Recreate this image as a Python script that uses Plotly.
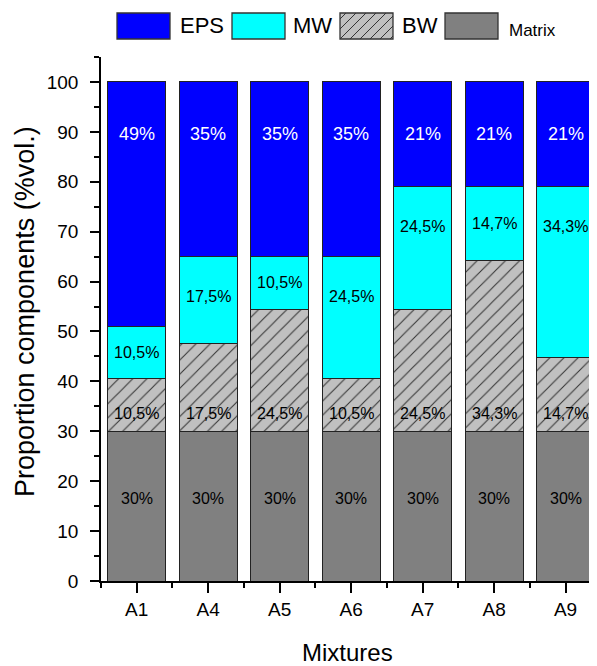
import plotly.graph_objects as go

categories = ["A1", "A4", "A5", "A6", "A7", "A8", "A9"]
matrix = [30, 30, 30, 30, 30, 30, 30]
bw = [10.5, 17.5, 24.5, 10.5, 24.5, 34.3, 14.7]
mw = [10.5, 17.5, 10.5, 24.5, 24.5, 14.7, 34.3]
eps = [49, 35, 35, 35, 21, 21, 21]

y_ticks = list(range(0, 101, 10))

FONT = "Liberation Sans, Arial, sans-serif"
# page geometry (the html body adds an 8px offset)
OFF = 8
W, H = 597, 666
L, R, T, B = 101, 0, 57, 85
PW, PH = W - L - R, H - T - B


def px(x):
    return (x - L) / PW


def py(y):
    return (H - B - y) / PH


def fmt(v):
    return f"{v:g}".replace(".", ",") + "%"


xs = list(range(len(categories)))
fig = go.Figure()

fig.add_bar(x=xs, y=matrix, name="Matrix",
            marker=dict(color="#808080", line=dict(color="#222", width=1)))
fig.add_bar(x=xs, y=bw, name="BW",
            marker=dict(color="#C0C0C0", line=dict(color="#222", width=1),
                        pattern=dict(shape="/", bgcolor="#C0C0C0", fgcolor="#333",
                                     size=10, solidity=0.1, fillmode="replace")))
fig.add_bar(x=xs, y=mw, name="MW",
            marker=dict(color="#00FFFF", line=dict(color="#222", width=1)))
fig.add_bar(x=xs, y=eps, name="EPS",
            marker=dict(color="#0000FF", line=dict(color="#222", width=1)))

# value labels
for i in xs:
    m_top = matrix[i]
    fig.add_annotation(x=i, y=matrix[i] * 0.55, text=fmt(matrix[i]), showarrow=False,
                       font=dict(family=FONT, size=16, color="black"))
    fig.add_annotation(x=i, y=m_top + 3.5, text=fmt(bw[i]), showarrow=False,
                       font=dict(family=FONT, size=16, color="black"))
    mw_top = m_top + bw[i] + mw[i]
    fig.add_annotation(x=i, y=mw_top - min(8, mw[i] / 2), text=fmt(mw[i]), showarrow=False,
                       font=dict(family=FONT, size=16, color="black"))
    eps_top = mw_top + eps[i]
    fig.add_annotation(x=i, y=eps_top - 10.5, text=fmt(eps[i]), showarrow=False,
                       font=dict(family=FONT, size=18, color="white"))

# custom legend
legend_items = [
    ("EPS", "#0000FF", 117, 178, 22),
    ("MW", "#00FFFF", 232, 291, 22),
    ("BW", "#C0C0C0", 340, 400, 22),
    ("Matrix", "#808080", 445, 507, 17),
]
shapes = []
annotations_extra = []
sw_w, sw_top, sw_bot = 53, 13, 39
for name, col, x0, tx, fs in legend_items:
    shapes.append(dict(type="rect", xref="paper", yref="paper",
                       x0=px(x0), x1=px(x0 + sw_w), y0=py(sw_bot), y1=py(sw_top),
                       fillcolor=col, line=dict(color="#333", width=1.3)))
    if name == "BW":
        hgt = sw_bot - sw_top
        for k in range(-3, 8):
            sx0 = x0 + k * 10
            ax0, ay0, ax1, ay1 = sx0, sw_bot, sx0 + hgt, sw_top
            if ax0 < x0:
                d = x0 - ax0
                ax0, ay0 = x0, sw_bot - d
            if ax1 > x0 + sw_w:
                d = ax1 - (x0 + sw_w)
                ax1, ay1 = x0 + sw_w, sw_top + d
            if ax1 <= ax0:
                continue
            shapes.append(dict(type="line", xref="paper", yref="paper",
                               x0=px(ax0), y0=py(ay0), x1=px(ax1), y1=py(ay1),
                               line=dict(color="#333", width=1)))
    ty = 26 if name != "Matrix" else 31
    annotations_extra.append(dict(xref="paper", yref="paper", x=px(tx), y=py(ty),
                                  xanchor="left", yanchor="middle", text=name, showarrow=False,
                                  font=dict(family=FONT, size=fs, color="black")))

# axis titles
annotations_extra.append(dict(xref="paper", yref="paper", x=px(25), y=py(312),
                              text="Proportion components (%vol.)", textangle=-90,
                              showarrow=False, xanchor="center", yanchor="middle",
                              font=dict(family=FONT, size=27, color="black")))
annotations_extra.append(dict(xref="paper", yref="paper", x=px(347), y=py(652),
                              text="Mixtures", showarrow=False, xanchor="center", yanchor="middle",
                              font=dict(family=FONT, size=24, color="black")))

for a in annotations_extra:
    fig.add_annotation(**a)

fig.update_layout(
    barmode="stack",
    bargap=0.19,
    width=W - OFF, height=H - OFF,
    margin=dict(l=L - OFF, r=R, t=T - OFF, b=B, pad=0),
    plot_bgcolor="white", paper_bgcolor="white",
    showlegend=False,
    shapes=shapes,
    font=dict(family=FONT, color="black"),
    xaxis=dict(range=[-0.5, 6.44], tickmode="array", tickvals=xs, ticktext=categories,
               ticks="outside", ticklen=10, tickwidth=1.5, tickcolor="black",
               minor=dict(tick0=0.5, dtick=1, ticks="outside", ticklen=5, tickwidth=1.5,
                          tickcolor="black"),
               showline=True, linecolor="black", linewidth=1.5, showgrid=False, zeroline=False,
               tickfont=dict(family=FONT, size=19, color="black")),
    yaxis=dict(range=[0, 105], tickmode="array", tickvals=y_ticks,
               ticks="outside", ticklen=9, tickwidth=1.5, tickcolor="black",
               ticklabelstandoff=8,
               minor=dict(tick0=0, dtick=5, ticks="outside", ticklen=5, tickwidth=1.5,
                          tickcolor="black"),
               showline=True, linecolor="black", linewidth=1.5, showgrid=False, zeroline=False,
               tickfont=dict(family=FONT, size=19, color="black")),
)

fig.write_html("out.html")
